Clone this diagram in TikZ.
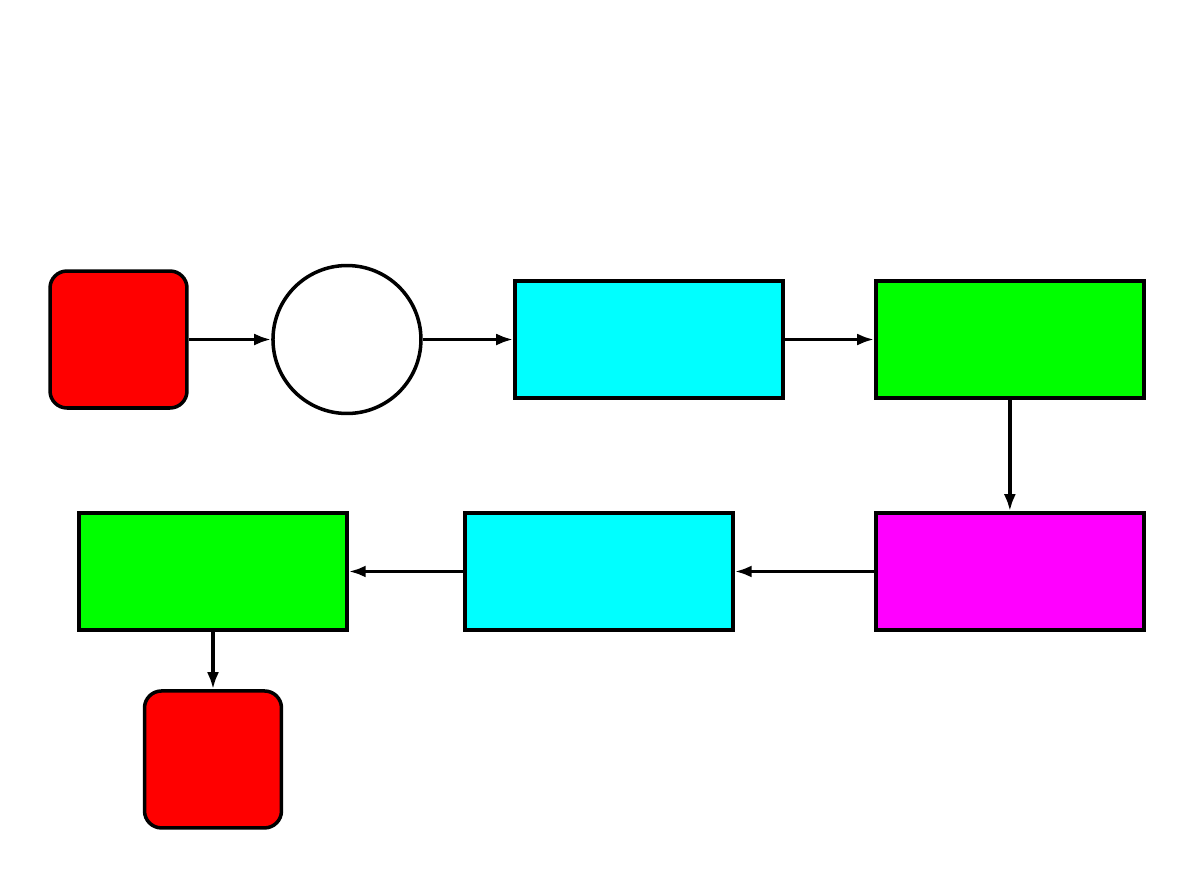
\documentclass[tikz,border=0pt]{standalone}
\usepackage{tikz}
\usetikzlibrary{shapes.geometric, arrows.meta, positioning}

\definecolor{boxred}{RGB}{255,0,0}
\definecolor{boxcyan}{RGB}{0,255,255}
\definecolor{boxgreen}{RGB}{0,255,0}
\definecolor{boxmagenta}{RGB}{255,0,255}

\begin{document}
\begin{tikzpicture}[
    x=0.02cm, y=-0.02cm,
    node distance=1.8cm and 1.8cm,
    terminal/.style={rectangle, rounded corners=0.34cm, draw, line width=2pt, fill=boxred, minimum width=2.74cm, minimum height=2.74cm, inner sep=0pt},
    junction/.style={circle, draw, line width=2pt, fill=white, minimum size=2.96cm, inner sep=0pt},
    procblock/.style={rectangle, draw, line width=2pt, minimum width=5.36cm, minimum height=2.34cm, inner sep=0pt},
    arrow/.style={-{Latex[length=0.34cm, width=0.24cm]}, line width=2pt}
]

% Frame
\useasboundingbox (0,0) rectangle (1191,893);

% Nodes
\node[terminal] (start) at (118.5,339.5) {};
\node[junction, right=1.65cm of start] (join) {};
\node[procblock, fill=boxcyan, right=1.81cm of join] (prepA) {};
\node[procblock, fill=boxgreen, right=1.79cm of prepA] (checkA) {};
\node[procblock, fill=boxmagenta, below=2.23cm of checkA] (transform) {};
\node[procblock, fill=boxcyan, left=2.79cm of transform] (prepB) {};
\node[procblock, fill=boxgreen, left=2.29cm of prepB] (checkB) {};
\node[terminal, below=1.15cm of checkB] (stop) {};

% Arrows
\draw[arrow] (start) -- (join);
\draw[arrow] (join) -- (prepA);
\draw[arrow] (prepA) -- (checkA);
\draw[arrow] (checkA) -- (transform);
\draw[arrow] (transform) -- (prepB);
\draw[arrow] (prepB) -- (checkB);
\draw[arrow] (checkB) -- (stop);

\end{tikzpicture}
\end{document}
